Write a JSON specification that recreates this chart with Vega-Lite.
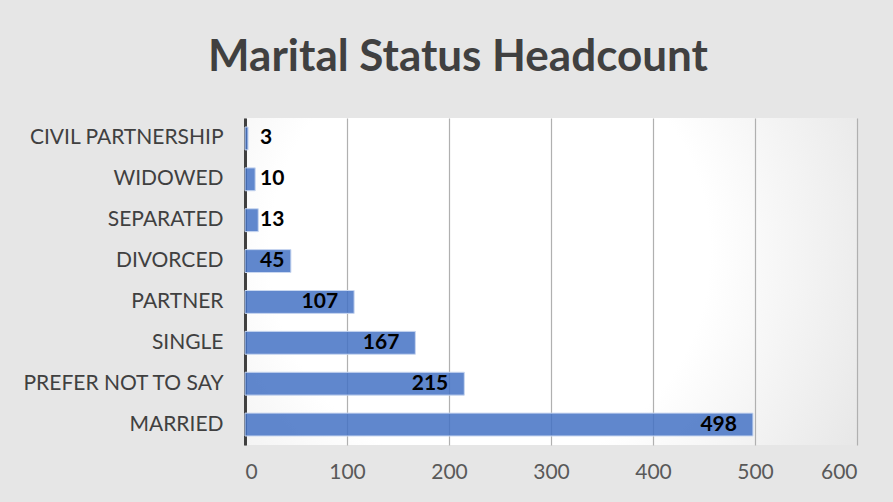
{
  "$schema": "https://vega.github.io/schema/vega-lite/v6.json",
  "width": 612,
  "height": 327,
  "autosize": {"type": "none"},
  "padding": {"left": 245, "top": 118, "right": 36, "bottom": 57},
  "background": "#e6e6e6",
  "title": {
    "text": "Marital Status Headcount",
    "font": "Lato",
    "fontSize": 44,
    "fontWeight": "bold",
    "color": "#404040",
    "anchor": "middle",
    "dx": -93,
    "offset": 38
  },
  "data": {
    "values": [
      {"status": "CIVIL PARTNERSHIP", "count": 3},
      {"status": "WIDOWED", "count": 10},
      {"status": "SEPARATED", "count": 13},
      {"status": "DIVORCED", "count": 45},
      {"status": "PARTNER", "count": 107},
      {"status": "SINGLE", "count": 167},
      {"status": "PREFER NOT TO SAY", "count": 215},
      {"status": "MARRIED", "count": 498}
    ]
  },
  "encoding": {
    "y": {
      "field": "status",
      "type": "nominal",
      "sort": null,
      "scale": {"paddingInner": 0.44, "paddingOuter": 0.22},
      "axis": {
        "title": null,
        "domain": true,
        "domainColor": "#404040",
        "domainWidth": 3,
        "ticks": false,
        "grid": false,
        "labelFont": "Lato",
        "labelFontSize": 21,
        "labelColor": "#404040",
        "labelPadding": 22,
        "labelLimit": 0
      }
    }
  },
  "layer": [
    {
      "mark": {"type": "bar", "fill": "#4472C4", "fillOpacity": 0.85, "stroke": "#c9d7f0", "strokeWidth": 1},
      "encoding": {
        "x": {
          "field": "count",
          "type": "quantitative",
          "scale": {"domain": [0, 600]},
          "axis": {
            "title": null,
            "domain": false,
            "ticks": false,
            "grid": true,
            "gridColor": "#b0b0b0",
            "gridWidth": 1.2,
            "values": [0, 100, 200, 300, 400, 500, 600],
            "labelFont": "Lato",
            "labelFontSize": 21,
            "labelColor": "#595959",
            "labelPadding": 16
          }
        }
      }
    },
    {
      "transform": [{"filter": "datum.count >= 100"}],
      "mark": {"type": "text", "align": "right", "baseline": "middle", "dx": -16, "font": "Lato", "fontWeight": "bold", "fontSize": 21, "color": "#000000"},
      "encoding": {
        "x": {"field": "count", "type": "quantitative"},
        "text": {"field": "count", "type": "quantitative"}
      }
    },
    {
      "transform": [{"filter": "datum.count < 100"}],
      "mark": {"type": "text", "align": "left", "baseline": "middle", "dx": 15, "font": "Lato", "fontWeight": "bold", "fontSize": 21, "color": "#000000"},
      "encoding": {
        "x": {"datum": 0, "type": "quantitative"},
        "text": {"field": "count", "type": "quantitative"}
      }
    }
  ],
  "config": {
    "view": {
      "stroke": null,
      "fill": {
        "gradient": "radial",
        "x1": 0.4, "y1": 0.45, "r1": 0,
        "x2": 0.4, "y2": 0.45, "r2": 0.8,
        "stops": [
          {"offset": 0, "color": "#ffffff"},
          {"offset": 0.45, "color": "#ffffff"},
          {"offset": 1, "color": "#dedede"}
        ]
      }
    }
  }
}
